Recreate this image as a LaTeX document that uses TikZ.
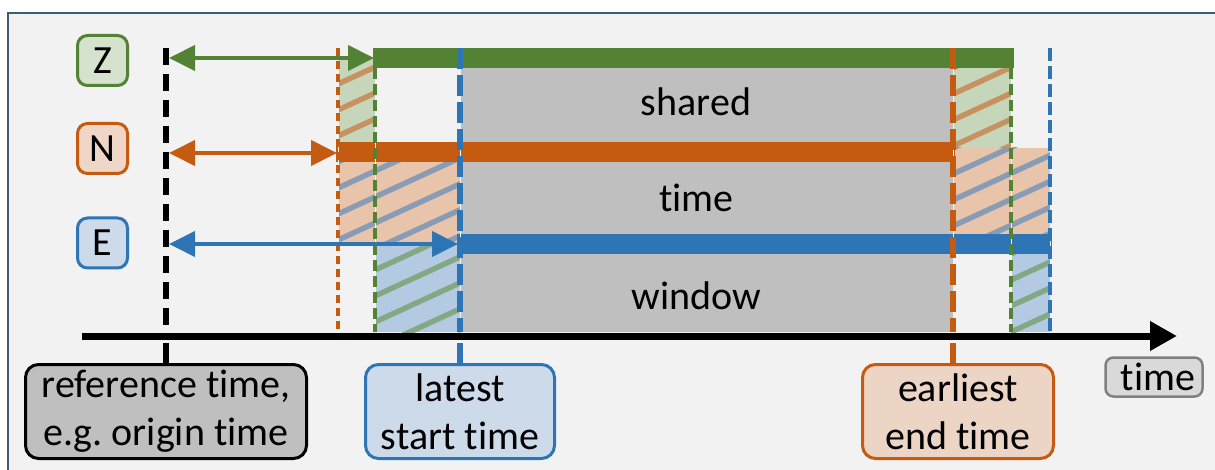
\documentclass[tikz,border=0pt]{standalone}
\usepackage{fontspec}
\setmainfont[Ligatures=NoCommon]{Carlito}
\usetikzlibrary{arrows.meta}
\definecolor{cgreen}{RGB}{84,130,53}
\definecolor{corange}{RGB}{197,90,17}
\definecolor{cblue}{RGB}{46,117,182}
\definecolor{cbg}{RGB}{242,242,242}
\definecolor{cframe}{RGB}{64,92,112}
\definecolor{cgray}{RGB}{191,191,191}
\definecolor{fgreen}{RGB}{197,214,186}
\definecolor{forange}{RGB}{232,196,170}
\definecolor{fblue}{RGB}{180,202,226}
\definecolor{sorange}{RGB}{200,146,96}
\definecolor{sblue}{RGB}{136,156,182}
\definecolor{sgreen}{RGB}{132,168,132}
\definecolor{lgreen}{RGB}{213,226,205}
\definecolor{lorange}{RGB}{240,214,198}
\definecolor{lblue}{RGB}{204,218,234}
\definecolor{lorangeb}{RGB}{236,213,197}
\definecolor{ltime}{RGB}{217,217,217}
\definecolor{ctimeb}{RGB}{128,128,128}
\newcommand{\hatchreg}[6]{%
  \begin{scope}
    \clip (#1,#2) rectangle (#3,#4);
    \fill[#5] (#1,#2) rectangle (#3,#4);
    \foreach \k in {0,...,8}{
      \draw[#6, line width=2.7pt] (#1-10,#2+26*\k+4.6) -- ++(220,-101.2);
    }
  \end{scope}}
\frenchspacing
\begin{document}
\begin{tikzpicture}[x=0.5pt,y=-0.5pt,
  font=\fontsize{20}{24}\selectfont,
  lbox/.style={draw, rounded corners=5pt, line width=1.5pt, minimum width=25pt, minimum height=25pt, inner sep=0pt},
  bbox/.style={draw, rounded corners=6.5pt, line width=1.5pt, align=center, inner sep=0pt, minimum height=47pt},
  dl/.style={preaction={draw=cbg, solid}},
  arr/.style={line width=2pt, {Triangle[length=13pt,width=12.5pt]}-{Triangle[length=13pt,width=12.5pt]}},
  conn/.style={line width=3pt}]
\path[use as bounding box] (0,0) rectangle (1215,470);
\clip (0,0) rectangle (1215,470);
% frame
\draw[cframe, line width=1pt, fill=cbg] (8,13) rectangle (1240,500);
% hatched regions
\hatchreg{338}{58}{375}{142}{fgreen}{sorange}
\hatchreg{338}{162}{460}{244}{forange}{sblue}
\hatchreg{375}{244}{460}{332}{fblue}{sgreen}
\hatchreg{953}{68}{1011}{148}{fgreen}{sorange}
\hatchreg{953}{148}{1050}{234}{forange}{sblue}
\hatchreg{1011}{254}{1050}{332}{fblue}{sgreen}
% shared window
\fill[cgray] (460,68) rectangle (953,332);
% bars
\fill[cgreen] (373,48) rectangle (1014,68);
\fill[corange] (336,142) rectangle (955,162);
\fill[cblue] (457,234) rectangle (1052,254);
% coordinates
\coordinate (refT) at (166,48);
\coordinate (refB) at (166,332);
\coordinate (refU) at (166,343);
\coordinate (nsT) at (338,48);
\coordinate (nsB) at (338,332);
\coordinate (zsT) at (375,68);
\coordinate (zsB) at (375,332);
\coordinate (esT) at (460,48);
\coordinate (esB) at (460,332);
\coordinate (esU) at (460,343);
\coordinate (neT) at (953,48);
\coordinate (neB) at (953,332);
\coordinate (neU) at (953,343);
\coordinate (zeT) at (1011,68);
\coordinate (zeB) at (1011,332);
\coordinate (eeT) at (1050,48);
\coordinate (eeB) at (1050,332);
% dashed lines
\draw[black, line width=3pt, dash pattern=on 8.5pt off 4.5pt] (refT) -- (refB);
\draw[corange, line width=1.75pt, dash pattern=on 4pt off 2.5pt, dl] (nsT) -- (nsB);
\draw[cgreen, line width=2pt, dash pattern=on 5.5pt off 2.5pt, dl] (zsT) -- (zsB);
\draw[cblue, line width=3pt, dash pattern=on 10.5pt off 3pt, dl] (esT) -- (esB);
\draw[corange, line width=3pt, dash pattern=on 10.5pt off 3pt, dl] (neT) -- (neB);
\draw[cgreen, line width=2pt, dash pattern=on 5.5pt off 2.5pt, dl] (zeT) -- (zeB);
\draw[cblue, line width=2.25pt, dash pattern=on 6.5pt off 2.5pt, dl] (eeT) -- (eeB);
% offset arrows
\coordinate (zA) at (169,58);  \coordinate (zS) at (374,58);
\coordinate (nA) at (169,153); \coordinate (nS) at (337,153);
\coordinate (eA) at (169,244); \coordinate (eS) at (458,244);
\draw[arr, cgreen] (zA) -- (zS);
\draw[arr, corange] (nA) -- (nS);
\draw[arr, cblue] (eA) -- (eS);
% axis
\coordinate (axL) at (82,336);
\coordinate (axR) at (1177,336);
\draw[line width=3.5pt, -{Triangle[length=13.5pt,width=14pt]}] (axL) -- (axR);
% row labels
\node[lbox, draw=cgreen, fill=lgreen] (Z) at (102.5,60.5) {Z};
\node[lbox, draw=corange, fill=lorange] (N) at (102.5,148.5) {N};
\node[lbox, draw=cblue, fill=lblue] (E) at (102.5,243) {E};
% window texts
\node[anchor=base] (tshared) at (696,115.7) {shared};
\node[anchor=base] (ttime) at (696.5,211.7) {time};
\node[anchor=base] (twindow) at (696.5,309) {window};
% bottom boxes
\node[bbox, fill=cgray, draw=black, minimum width=140.5pt] (ref) at (166,411.5) {reference time,\\e.g. origin time};
\node[bbox, fill=lblue, draw=cblue, minimum width=94.5pt] (late) at (460,411.5) {latest\\start time};
\node[bbox, fill=lorangeb, draw=corange, minimum width=95.5pt] (early) at (958,411.5) {earliest\\end time};
\node[draw=ctimeb, fill=ltime, line width=1.25pt, rounded corners=4pt, minimum width=48.5pt, minimum height=19.5pt, inner sep=0pt] (tlab) at (1154,377) {\hspace{4pt}time};
% connectors to boxes
\draw[conn, black] (refU) -- (ref.north);
\draw[conn, cblue] (esU) -- (late.north);
\draw[conn, corange] (neU) -- (neU |- early.north);
\end{tikzpicture}
\end{document}
